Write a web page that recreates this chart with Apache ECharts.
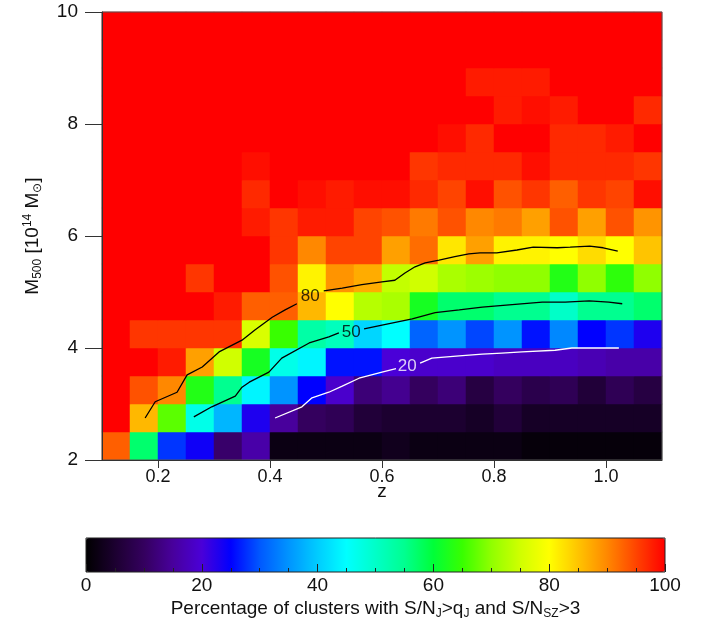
<!DOCTYPE html>
<html><head><meta charset="utf-8">
<script src="https://cdn.jsdelivr.net/npm/echarts@6/dist/echarts.min.js"></script>
<style>html,body{margin:0;padding:0;background:#fff}#c{width:702px;height:624px}</style>
</head><body><div id="c"></div>
<script>
// ---- data ----
const zCenters = [0.125,0.175,0.225,0.275,0.325,0.375,0.425,0.475,0.525,0.575,0.625,0.675,0.725,0.775,0.825,0.875,0.925,0.975,1.025,1.075];
const massCenters = [2.25,2.75,3.25,3.75,4.25,4.75,5.25,5.75,6.25,6.75,7.25,7.75,8.25,8.75,9.25,9.75];
// percentage per cell, rows from lowest mass bin upward, columns in z order
const row00 = [93,57,28,24,11,16,2,2,2,2,3,2,2,2,2,1,1,1,1,1];
const row01 = [100,86,67,47,38,23,15,10,9,6,5,5,5,4,6,4,4,4,4,4];
const row02 = [100,94,90,63,55,44,35,25,19,12,14,10,12,7,10,8,9,6,9,7];
const row03 = [100,100,98,88,75,62,47,44,26,26,20,19,19,19,18,18,18,17,16,16];
const row04 = [100,96,96,96,96,76,65,53,51,41,45,31,35,29,35,26,34,25,28,23];
const row05 = [100,100,100,100,98,93,93,86,80,73,72,62,57,57,55,55,50,55,55,57];
const row06 = [100,100,100,96,100,100,94,81,89,87,74,75,72,71,70,70,63,70,64,70];
const row07 = [100,100,100,100,100,100,96,90,95,95,88,92,82,88,81,81,80,83,80,85];
const row08 = [100,100,100,100,100,98,96,98,98,95,94,91,94,90,91,88,94,88,94,89];
const row09 = [100,100,100,100,100,97,100,99,98,99,99,97,95,99,94,96,93,96,95,99];
const row10 = [100,100,100,100,100,99,100,100,100,100,100,96,97,97,97,99,97,97,97,96];
const row11 = [100,100,100,100,100,100,100,100,100,100,100,100,99,97,100,100,97,97,98,100];
const row12 = [100,100,100,100,100,100,100,100,100,100,100,100,100,100,98,99,98,100,100,97];
const row13 = [100,100,100,100,100,100,100,100,100,100,100,100,100,98,98,98,100,100,100,100];
const row14 = [100,100,100,100,100,100,100,100,100,100,100,100,100,100,100,100,100,100,100,100];
const row15 = [100,100,100,100,100,100,100,100,100,100,100,100,100,100,100,100,100,100,100,100];
const pctRows = [row00,row01,row02,row03,row04,row05,row06,row07,row08,row09,row10,row11,row12,row13,row14,row15];

const zTicks = [0.2,0.4,0.6,0.8,1.0];
const massTicks = [2,4,6,8,10];

// contour lines [z, M500]
const c80a = [[0.177,2.75],[0.195,3.04],[0.234,3.21],[0.252,3.52],[0.279,3.66],[0.309,3.93],[0.35,4.14],[0.373,4.32],[0.404,4.55],[0.427,4.68],[0.448,4.79]];
const c80b = [[0.496,5.02],[0.529,5.07],[0.564,5.13],[0.6,5.18],[0.623,5.21],[0.641,5.34],[0.659,5.45],[0.677,5.52],[0.702,5.57],[0.73,5.63],[0.755,5.68],[0.775,5.70],[0.805,5.70],[0.841,5.75],[0.87,5.80],[0.913,5.79],[0.936,5.80],[0.971,5.82],[0.995,5.79],[1.021,5.73]];
const c50a = [[0.264,2.77],[0.296,2.95],[0.338,3.14],[0.35,3.30],[0.363,3.39],[0.398,3.57],[0.421,3.82],[0.47,4.09],[0.505,4.20],[0.523,4.27]];
const c50b = [[0.568,4.34],[0.6,4.41],[0.654,4.52],[0.695,4.63],[0.738,4.68],[0.779,4.73],[0.827,4.77],[0.886,4.82],[0.927,4.82],[0.97,4.84],[1.005,4.82],[1.029,4.79]];
const c20a = [[0.409,2.75],[0.457,2.95],[0.475,3.11],[0.505,3.21],[0.529,3.32],[0.559,3.46],[0.6,3.57],[0.625,3.63]];
const c20b = [[0.668,3.73],[0.689,3.82],[0.738,3.86],[0.779,3.89],[0.814,3.91],[0.85,3.93],[0.909,3.96],[0.939,4.0],[1.023,4.0]];
const contourLabels = [[0.472,4.92,'80'],[0.545,4.28,'50'],[0.645,3.68,'20']];

const cmap = ['#000000','#1c0030','#34005e','#48009c','#4a00d8','#0000ff','#0058ff','#0094ff','#00ccff','#00ffff','#00ffc8','#00ff90','#00ff38','#38ff00','#90ff00','#d0ff00','#ffff00','#ffc400','#ff8800','#ff4400','#ff0000'];

// ---- build ----
const heat = [];
pctRows.forEach((row, r) => row.forEach((v, c) => heat.push([c, r, v])));

const FONT = '"Liberation Sans", Arial, Helvetica, sans-serif';
const TXT = '#111';
const chart = echarts.init(document.getElementById('c'), null, {renderer: 'canvas'});

function lineSeries(data, color) {
  return {type:'line', xAxisIndex:1, yAxisIndex:1, data: data, symbol:'none', silent:true,
    lineStyle:{color: color, width:1.3}, z:5, animation:false};
}

chart.setOption({
  animation:false,
  grid: [
    {left:102, top:12, width:560, height:448, show:true, z:3, borderColor:'#555', borderWidth:1, backgroundColor:'transparent', outerBoundsMode:'none', containLabel:false},
    {left:86, top:538, width:579, height:34, show:true, z:10, borderColor:'#222', borderWidth:1, backgroundColor:'transparent', outerBoundsMode:'none', containLabel:false}
  ],
  xAxis: [
    {type:'category', gridIndex:0, data: zCenters.map(String), show:false},
    {type:'value', gridIndex:0, min:0.1, max:1.1, position:'bottom', z:6,
      axisLine:{show:true, onZero:false, lineStyle:{color:'#333', width:1}},
      axisTick:{show:true, length:8, customValues: zTicks, lineStyle:{color:'#333'}},
      axisLabel:{customValues: zTicks, margin:8, fontSize:18, color:TXT, fontFamily:FONT, formatter: v => v.toFixed(1)},
      splitLine:{show:false},
      name:'z', nameLocation:'middle', nameGap:22, nameMoveOverlap:false,
      nameTextStyle:{fontSize:19, color:TXT, fontFamily:FONT}},
    {type:'value', gridIndex:1, min:0, max:100, interval:20, z:12,
      axisLine:{show:false},
      axisTick:{show:true, inside:true, length:8, lineStyle:{color:'#222'}},
      minorTick:{show:true, splitNumber:4, length:4, lineStyle:{color:'#222'}},
      axisLabel:{margin:4, fontSize:19, color:TXT, fontFamily:FONT},
      splitLine:{show:false},
      name:'{n|Percentage of clusters with S/N}{s|J}{n|>q}{s|J}{n| and S/N}{s|SZ}{n|>3}',
      nameLocation:'middle', nameGap:26, nameMoveOverlap:false,
      nameTextStyle:{color:TXT, fontFamily:FONT, rich:{
        n:{fontSize:19, lineHeight:22, color:TXT, fontFamily:FONT},
        s:{fontSize:12, lineHeight:12, verticalAlign:'bottom', color:TXT, fontFamily:FONT}}}}
  ],
  yAxis: [
    {type:'category', gridIndex:0, data: massCenters.map(String), show:false},
    {type:'value', gridIndex:0, min:2, max:10, interval:2, position:'left', z:6,
      axisLine:{show:true, onZero:false, lineStyle:{color:'#333', width:1}},
      axisTick:{show:true, length:17, lineStyle:{color:'#333'}},
      axisLabel:{margin:24, fontSize:19, color:TXT, fontFamily:FONT},
      splitLine:{show:false},
      name:'{n|M}{s|500}{n| [10}{p|14}{n| M}{s|⊙}{n|]}', nameLocation:'middle', nameRotate:90, nameGap:58,
      nameTextStyle:{color:TXT, fontFamily:FONT, rich:{
        n:{fontSize:19, lineHeight:22, color:TXT, fontFamily:FONT},
        s:{fontSize:12, lineHeight:12, verticalAlign:'bottom', color:TXT, fontFamily:FONT},
        p:{fontSize:12, lineHeight:12, verticalAlign:'top', color:TXT, fontFamily:FONT}}}},
    {type:'value', gridIndex:1, min:0, max:1, show:false}
  ],
  visualMap: {
    type:'continuous', min:0, max:100, seriesIndex:0, orient:'horizontal',
    left:86, top:538, itemWidth:34, itemHeight:579, calculable:false, hoverLink:false,
    padding:0, text:null, inRange:{color: cmap}
  },
  series: [
    {type:'heatmap', xAxisIndex:0, yAxisIndex:0, data: heat, silent:true, progressive:0,
      itemStyle:{borderWidth:0}, emphasis:{disabled:true}},
    lineSeries(c80a, '#000'), lineSeries(c80b, '#000'),
    lineSeries(c50a, '#000'), lineSeries(c50b, '#000'),
    lineSeries(c20a, '#fff'), lineSeries(c20b, '#fff'),
    {type:'scatter', xAxisIndex:1, yAxisIndex:1, symbolSize:0, silent:true, z:6,
      data: contourLabels.map(d => ({value:d, label:{color: d[2] === '20' ? '#fff' : '#000'}})),
      label:{show:true, position:'inside', formatter: p => p.value[2], fontSize:17, fontFamily:FONT}}
  ]
});
</script></body></html>
